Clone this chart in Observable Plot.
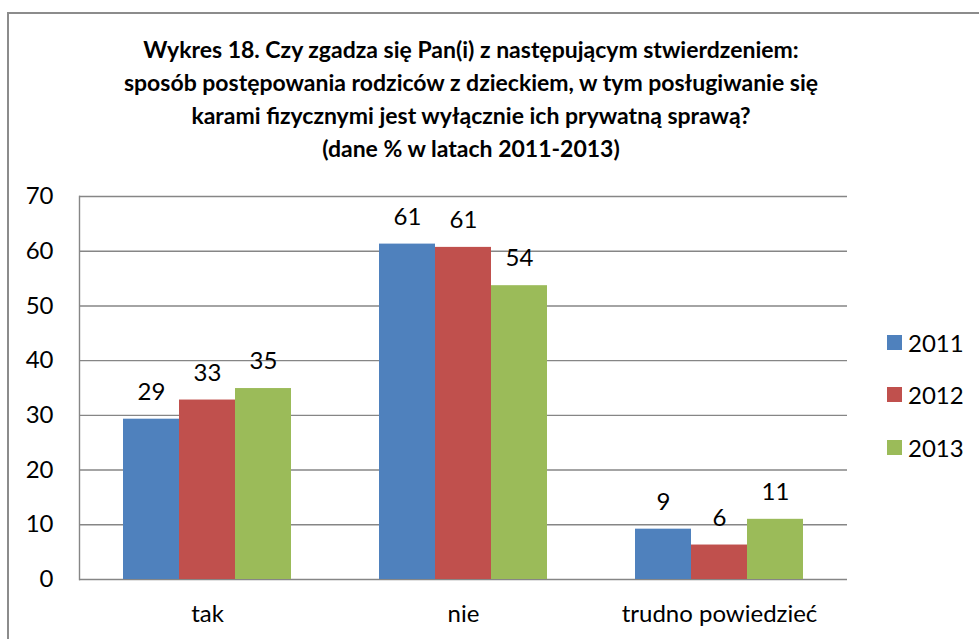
<!DOCTYPE html>
<html><head><meta charset="utf-8">
<script src="https://cdn.jsdelivr.net/npm/d3@7"></script>
<script src="https://cdn.jsdelivr.net/npm/@observablehq/plot@0.6"></script>
<style>
body{margin:0;background:#fff;}
#wrap{position:relative;width:979px;height:639px;overflow:hidden;font-family:Lato,"Open Sans",sans-serif;color:#000;}
#border{position:absolute;left:7px;top:12px;width:1100px;height:800px;border:2px solid #8c8c8c;}
#title{position:absolute;left:0;top:33px;width:942px;text-align:center;font-weight:bold;font-size:23px;line-height:33px;}
#chart{position:absolute;left:0;top:180px;}
#legend{position:absolute;left:887px;top:316px;}
.row{display:flex;align-items:center;height:52.5px;font-size:24px;}
.sw{width:15px;height:15px;margin-right:6px;}
</style></head>
<body>
<div id="wrap">
<div id="border"></div>
<div id="title">Wykres 18. Czy zgadza się Pan(i) z następującym stwierdzeniem:<br>sposób postępowania rodziców z dzieckiem, w tym posługiwanie się<br>karami fizycznymi jest wyłącznie ich prywatną sprawą?<br>(dane % w latach 2011-2013)</div>
<div id="chart"></div>
<div id="legend"></div>
</div>
<script>
const categories = ["tak", "nie", "trudno powiedzieć"];
const years = ["2011", "2012", "2013"];
const values2011 = [29.3, 61.3, 9.2];
const values2012 = [32.8, 60.7, 6.3];
const values2013 = [34.9, 53.7, 11.0];
const labels2011 = [29, 61, 9];
const labels2012 = [33, 61, 6];
const labels2013 = [35, 54, 11];
const yTicks = [0, 10, 20, 30, 40, 50, 60, 70];
const colors = ["#4F81BD", "#C0504D", "#9BBB59"];

const series = [values2011, values2012, values2013];
const labelSeries = [labels2011, labels2012, labels2013];
const rows = [];
categories.forEach((c, i) => years.forEach((y, j) => rows.push({cat: c, year: y, value: series[j][i], label: labelSeries[j][i]})));

const font = "Lato, 'Open Sans', sans-serif";
const plot = Plot.plot({
  width: 979,
  height: 459,
  marginTop: 16,
  marginBottom: 60,
  marginLeft: 78,
  marginRight: 131,
  style: {fontFamily: font, fontSize: "24px", color: "#000", background: "transparent"},
  fx: {domain: categories, padding: 0, label: null, axis: null},
  x: {domain: years, paddingInner: 0, paddingOuter: 0.75, axis: null},
  y: {domain: [0, 70], label: null},
  color: {domain: years, range: colors},
  marks: [
    Plot.gridY(yTicks, {stroke: "#868686", strokeOpacity: 1, strokeWidth: 1.4}),
    Plot.frame({anchor: "left", fx: [categories[0]], stroke: "#868686", strokeWidth: 1.4}),
    Plot.barY(rows, {fx: "cat", x: "year", y: "value", fill: "year", inset: 0}),
    Plot.text(rows, {fx: "cat", x: "year", y: "value", text: "label", dy: -27, fontSize: 24, fill: "#000"}),
    Plot.axisY(yTicks, {tickSize: 0, tickPadding: 26, fontSize: 24, label: null, fill: "#000"}),
    Plot.axisFx({anchor: "bottom", tickSize: 0, tickPadding: 25, fontSize: 24, label: null, fill: "#000"})
  ]
});
document.getElementById("chart").appendChild(plot);

const legend = document.getElementById("legend");
years.forEach((y, j) => {
  const r = document.createElement("div");
  r.className = "row";
  r.innerHTML = `<div class="sw" style="background:${colors[j]}"></div><span>${y}</span>`;
  legend.appendChild(r);
});
</script>
</body></html>
